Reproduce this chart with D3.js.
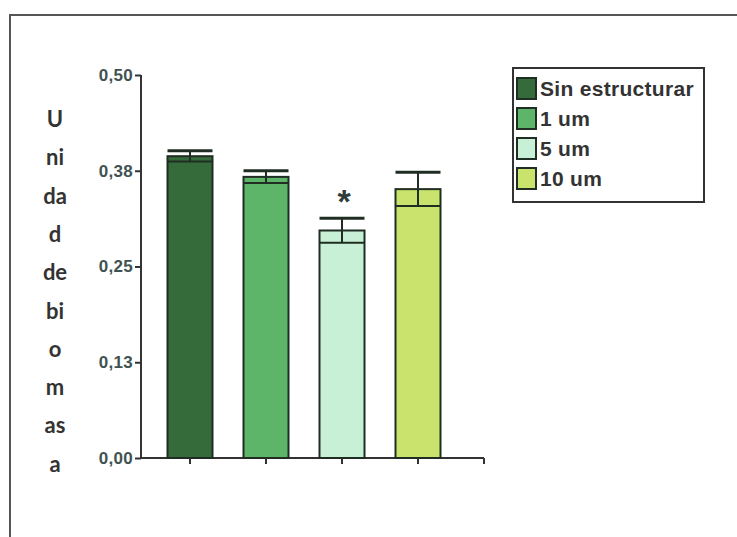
<!DOCTYPE html>
<html>
<head>
<meta charset="utf-8">
<script src="https://cdn.jsdelivr.net/npm/d3@7"></script>
<style>
  body { margin: 0; background: #fff; }
  svg { display: block; }
</style>
</head>
<body>
<div id="chart"></div>
<script>
(function() {
const width = 737,
      height = 537

// data
const categories = ['Sin estructurar', '1 um', '5 um', '10 um']
const means = [0.394, 0.367, 0.297, 0.351]
const errors = [0.007, 0.008, 0.016, 0.022]
const colors = ['#356a3a', '#5db56a', '#c8f0d6', '#c9e36c']
const tickValues = [0, 0.125, 0.25, 0.375, 0.5]
const tickLabels = ['0,00', '0,13', '0,25', '0,38', '0,50']
const titleParts = ['U', 'ni', 'da', 'd', 'de', 'bi', 'o', 'm', 'as', 'a']
const significant = ['5 um']

const data = categories.map(function(c, i) {
  return { name: c, mean: means[i], err: errors[i], color: colors[i] }
})

const svg = d3.select('#chart')
  .append('svg')
  .attr('width', width)
  .attr('height', height)

// outer frame (only top and left edges visible)
svg.append('path')
  .attr('d', 'M10,' + height + ' V15 H' + width)
  .attr('fill', 'none')
  .attr('stroke', '#555')
  .attr('stroke-width', 2)

const y = d3.scaleLinear()
  .domain([0, 0.5])
  .range([458, 75])

const x = d3.scalePoint()
  .domain(categories)
  .range([190, 418])

const barW = 45
const axisLeft = 141,
      axisRight = 484

// y axis
const yAxis = svg.append('g')
  .attr('transform', 'translate(' + axisLeft + ',0)')
  .call(d3.axisLeft(y)
    .tickValues(tickValues)
    .tickSize(6)
    .tickPadding(2)
    .tickFormat(function(d, i) { return tickLabels[i] }))
yAxis.select('.domain').remove()
yAxis.append('line')
  .attr('y1', y(0)).attr('y2', y(0.5))
  .attr('stroke', '#333').attr('stroke-width', 2)
yAxis.selectAll('.tick line').attr('stroke', '#333').attr('stroke-width', 2)
yAxis.selectAll('.tick text')
  .attr('fill', '#3f5252')
  .style('font-family', 'Liberation Sans, Arial, sans-serif')
  .style('font-weight', 'bold')
  .style('font-size', '17px')
  .style('letter-spacing', '0.3px')

// x axis
const xAxis = svg.append('g')
  .attr('transform', 'translate(0,' + y(0) + ')')
xAxis.append('line')
  .attr('x1', axisLeft).attr('x2', axisRight)
  .attr('stroke', '#333').attr('stroke-width', 2)
xAxis.selectAll('.xt')
  .data(categories.map(function(c) { return x(c) }).concat([axisRight]))
  .enter().append('line')
  .attr('class', 'xt')
  .attr('x1', function(d) { return d }).attr('x2', function(d) { return d })
  .attr('y1', 0).attr('y2', 6)
  .attr('stroke', '#333').attr('stroke-width', 2)

// bars
svg.selectAll('.bar')
  .data(data)
  .enter().append('rect')
  .attr('class', 'bar')
  .attr('x', function(d) { return x(d.name) - barW / 2 })
  .attr('y', function(d) { return y(d.mean) })
  .attr('width', barW)
  .attr('height', function(d) { return y(0) - y(d.mean) })
  .attr('fill', function(d) { return d.color })
  .attr('stroke', '#1f2d22')
  .attr('stroke-width', 2)

// error bars
const eb = svg.selectAll('.err')
  .data(data)
  .enter().append('g')
  .attr('class', 'err')
  .attr('stroke', '#1f2d22')

eb.append('line')
  .attr('x1', function(d) { return x(d.name) })
  .attr('x2', function(d) { return x(d.name) })
  .attr('y1', function(d) { return y(d.mean - d.err) })
  .attr('y2', function(d) { return y(d.mean + d.err) })
  .attr('stroke-width', 2)
eb.append('line')
  .attr('x1', function(d) { return x(d.name) - barW / 2 })
  .attr('x2', function(d) { return x(d.name) + barW / 2 })
  .attr('y1', function(d) { return y(d.mean + d.err) })
  .attr('y2', function(d) { return y(d.mean + d.err) })
  .attr('stroke-width', 3)
eb.append('line')
  .attr('x1', function(d) { return x(d.name) - barW / 2 })
  .attr('x2', function(d) { return x(d.name) + barW / 2 })
  .attr('y1', function(d) { return y(d.mean - d.err) })
  .attr('y2', function(d) { return y(d.mean - d.err) })
  .attr('stroke-width', 2)

// significance mark
svg.selectAll('.star')
  .data(data.filter(function(d) { return significant.indexOf(d.name) >= 0 }))
  .enter().append('text')
  .attr('class', 'star')
  .attr('x', function(d) { return x(d.name) + 2 })
  .attr('y', function(d) { return y(d.mean + d.err) - 5 })
  .attr('text-anchor', 'middle')
  .attr('fill', '#2f3d3a')
  .style('font-family', 'Liberation Sans, Arial, sans-serif')
  .style('font-weight', 'bold')
  .style('font-size', '34px')
  .text('*')

// y title, broken into stacked syllables
svg.selectAll('.ytitle')
  .data(titleParts)
  .enter().append('text')
  .attr('class', 'ytitle')
  .attr('x', 55)
  .attr('y', function(d, i) { return 127 + i * 38.3 })
  .attr('text-anchor', 'middle')
  .attr('fill', '#333')
  .style('font-family', 'Lato, sans-serif')
  .style('font-weight', 'bold')
  .style('font-size', '22px')
  .text(function(d) { return d })

// legend
const legend = svg.append('g')
legend.append('rect')
  .attr('x', 513).attr('y', 68)
  .attr('width', 191).attr('height', 134)
  .attr('fill', '#fff')
  .attr('stroke', '#333')
  .attr('stroke-width', 2)

const items = legend.selectAll('.item')
  .data(data)
  .enter().append('g')
  .attr('class', 'item')
  .attr('transform', function(d, i) { return 'translate(517,' + (78 + i * 30) + ')' })
items.append('rect')
  .attr('width', 19).attr('height', 21)
  .attr('fill', function(d) { return d.color })
  .attr('stroke', '#1f2d22')
  .attr('stroke-width', 2)
items.append('text')
  .attr('x', 23)
  .attr('y', 18)
  .attr('fill', '#333')
  .style('font-family', 'Liberation Sans, Arial, sans-serif')
  .style('font-weight', 'bold')
  .style('font-size', '21px')
  .style('letter-spacing', '0.3px')
  .text(function(d) { return d.name })

})()
</script>
</body>
</html>
